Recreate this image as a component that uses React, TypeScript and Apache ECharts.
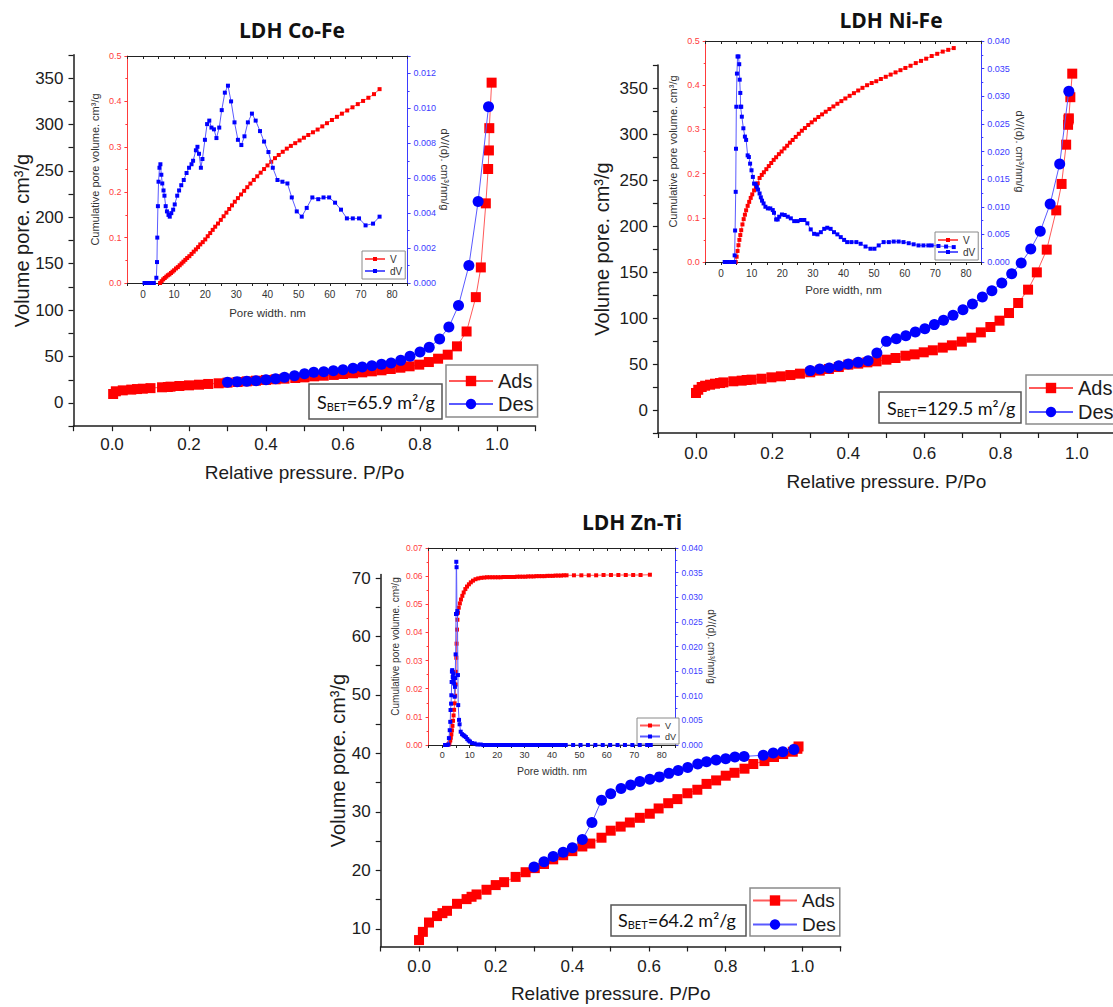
import React, { useEffect, useRef } from "react";
import * as echarts from "echarts";

// ---------------- DATA ----------------
const panelTitles = ["LDH Co-Fe", "LDH Ni-Fe", "LDH Zn-Ti"];
const sbetValues = ["65.9", "129.5", "64.2"];

const coFeAds = [[0.003,9.7],[0.01,12.6],[0.028,13.6],[0.05,14.4],[0.065,15],[0.08,15.4],[0.1,16],[0.13,16.9],[0.145,17.2],[0.152,17.6],[0.175,18.3],[0.2,19],[0.226,19.7],[0.25,20.5],[0.277,21.2],[0.3,21.9],[0.326,22.6],[0.35,23.3],[0.374,24],[0.4,24.8],[0.425,25.5],[0.448,26.2],[0.476,26.9],[0.5,27.6],[0.525,28.7],[0.55,29.4],[0.576,30.2],[0.6,31.2],[0.626,32],[0.65,33],[0.675,34.1],[0.7,35.2],[0.724,36.6],[0.749,38],[0.773,39.5],[0.798,41.3],[0.823,44.1],[0.847,47.7],[0.872,52],[0.896,61],[0.921,77],[0.945,114],[0.958,146],[0.971,215],[0.977,252],[0.979,272],[0.98,296],[0.986,345]];
const coFeDes = [[0.3,22.3],[0.325,23],[0.35,23.3],[0.374,24],[0.4,25.1],[0.425,26.2],[0.448,27.6],[0.474,29.4],[0.5,31.6],[0.524,33],[0.55,33.7],[0.575,34.8],[0.6,35.9],[0.626,37.3],[0.65,38.8],[0.675,40.2],[0.7,41.6],[0.725,43.1],[0.75,45.9],[0.774,50.3],[0.8,54.9],[0.824,59.9],[0.851,68.9],[0.875,81.8],[0.9,105],[0.927,148],[0.951,217],[0.978,319]];
const coFeV = [[5.5,0],[6,0.004],[6.5,0.008],[7,0.011],[7.5,0.014],[8,0.017],[8.5,0.019],[9,0.022],[9.5,0.025],[10,0.028],[10.6,0.032],[11.2,0.035],[11.8,0.039],[12.4,0.043],[13,0.047],[13.6,0.051],[14.2,0.055],[14.9,0.059],[15.6,0.064],[16.3,0.069],[17,0.074],[17.7,0.079],[18.4,0.085],[19.2,0.09],[20,0.096],[20.8,0.103],[21.6,0.11],[22.4,0.117],[23.2,0.124],[24.1,0.131],[25,0.139],[25.9,0.147],[26.8,0.155],[27.7,0.163],[28.6,0.171],[29.5,0.179],[30.5,0.187],[31.5,0.195],[32.5,0.203],[33.5,0.211],[34.5,0.219],[35.6,0.227],[36.7,0.235],[37.8,0.243],[38.9,0.251],[40,0.259],[41.2,0.267],[42.4,0.275],[43.6,0.282],[44.9,0.289],[46.2,0.296],[47.5,0.302],[48.9,0.308],[50.3,0.314],[51.7,0.32],[53.1,0.326],[54.6,0.332],[56.1,0.338],[57.6,0.345],[59.1,0.352],[60.7,0.359],[62.3,0.366],[63.9,0.373],[65.6,0.38],[67.3,0.387],[69,0.394],[70.7,0.401],[72.4,0.408],[74.2,0.416],[76,0.427]];
const coFeDV = [[0.5,0],[1.5,0],[2.5,0],[3.5,0],[4.3,0.0003],[4.5,0.0012],[4.6,0.0026],[4.8,0.0044],[5,0.0058],[5.3,0.0066],[5.6,0.0068],[5.9,0.0062],[6.2,0.0057],[6.6,0.0053],[6.9,0.005],[7.3,0.0044],[7.7,0.0041],[8.2,0.0039],[8.6,0.0038],[9.1,0.004],[9.7,0.0042],[10.2,0.0045],[11,0.005],[11.6,0.0053],[12.3,0.0056],[13.1,0.0059],[14,0.0063],[14.8,0.0066],[15.6,0.0068],[16.1,0.007],[17,0.0076],[17.5,0.0078],[18,0.0074],[18.6,0.0066],[19.1,0.0071],[19.9,0.0082],[20.6,0.0091],[21.3,0.0093],[22,0.0089],[22.8,0.0088],[23.6,0.0083],[24.5,0.0089],[25.3,0.0099],[26.3,0.0109],[27.3,0.0113],[28.3,0.0104],[29.4,0.0092],[30.5,0.0082],[31.6,0.0079],[32.6,0.0084],[33.7,0.0092],[35,0.0097],[36.2,0.0093],[37.6,0.0087],[38.9,0.0081],[40.3,0.0075],[41.7,0.0066],[43.2,0.0059],[44.8,0.0058],[46.4,0.0057],[47.8,0.0049],[49.4,0.0041],[51,0.0038],[52.6,0.0043],[54.4,0.0049],[56.3,0.0048],[58,0.0049],[59.8,0.0049],[61.7,0.0046],[63.6,0.0042],[65.5,0.0037],[67.4,0.0037],[69.4,0.0037],[71.5,0.0033],[73.9,0.0034],[76,0.0038]];

const niFeAds = [[0,18.5],[0.006,22],[0.015,25],[0.024,26.4],[0.037,27.5],[0.05,28.6],[0.063,29.3],[0.072,30],[0.098,31.2],[0.12,31.9],[0.133,32.6],[0.146,33],[0.172,34],[0.198,35.5],[0.223,36.6],[0.248,38],[0.273,39.5],[0.3,41],[0.325,42.8],[0.349,44.6],[0.375,46.7],[0.4,49.3],[0.426,50.4],[0.45,51.8],[0.474,52.9],[0.5,54.7],[0.524,56.5],[0.55,59],[0.574,60.5],[0.598,62.7],[0.622,64.9],[0.648,67.8],[0.672,70.3],[0.698,74.3],[0.723,78.6],[0.748,84.4],[0.773,90.2],[0.797,97.1],[0.822,105.4],[0.846,116.3],[0.872,130.8],[0.895,149.6],[0.921,174.3],[0.946,217],[0.96,245.7],[0.972,288.4],[0.977,310],[0.978,315.6],[0.979,317],[0.983,340],[0.988,365.6]];
const niFeDes = [[0.3,42.8],[0.325,44.6],[0.35,45.7],[0.375,48.2],[0.4,50],[0.426,51.8],[0.452,53.6],[0.475,62],[0.5,74.6],[0.526,77.5],[0.551,80.8],[0.576,84.8],[0.601,88.4],[0.626,92.8],[0.65,97.5],[0.675,102.9],[0.701,109],[0.726,115.2],[0.752,122.8],[0.777,129.7],[0.803,138],[0.829,148.2],[0.854,159.8],[0.879,175],[0.904,194.2],[0.93,224],[0.955,267.4],[0.979,346.4]];
const niFeV = [[4.8,0],[5.1,0.012],[5.4,0.025],[5.7,0.038],[6,0.05],[6.3,0.061],[6.6,0.072],[7,0.085],[7.4,0.097],[7.8,0.107],[8.2,0.117],[8.7,0.127],[9.2,0.136],[9.7,0.145],[10.2,0.153],[10.8,0.162],[11.4,0.17],[12,0.178],[12.6,0.19],[13.3,0.197],[14,0.203],[14.8,0.21],[15.6,0.217],[16.4,0.224],[17.2,0.231],[18,0.237],[18.9,0.244],[19.8,0.25],[20.7,0.257],[21.6,0.263],[22.5,0.27],[23.4,0.276],[24.4,0.283],[25.4,0.29],[26.4,0.297],[27.4,0.303],[28.5,0.31],[29.6,0.316],[30.7,0.322],[31.8,0.328],[33,0.334],[34.2,0.34],[35.4,0.346],[36.7,0.352],[38,0.358],[39.3,0.364],[40.6,0.37],[42,0.376],[43.4,0.382],[44.8,0.388],[46.2,0.394],[47.7,0.4],[49.2,0.405],[50.7,0.409],[52.2,0.414],[53.8,0.419],[55.4,0.424],[57,0.429],[58.6,0.434],[60.2,0.439],[61.9,0.444],[63.6,0.45],[65.3,0.455],[67,0.46],[68.8,0.466],[70.6,0.471],[72.4,0.476],[74.2,0.48],[76,0.484]];
const niFeDV = [[1.2,0],[2.2,0],[3.3,0],[4.4,0],[4.45,0.0012],[4.6,0.0057],[4.8,0.0127],[4.9,0.0205],[5,0.0281],[5.2,0.0341],[5.4,0.0372],[5.7,0.0372],[5.95,0.0358],[6.1,0.033],[6.3,0.0306],[6.4,0.0281],[6.6,0.0281],[6.8,0.0263],[7.3,0.0242],[7.8,0.0227],[8.2,0.0221],[8.7,0.0193],[9.1,0.019],[9.5,0.0178],[9.96,0.0166],[10.4,0.0154],[10.8,0.0142],[11.3,0.0141],[11.7,0.0136],[12.1,0.0131],[12.6,0.0124],[13,0.0117],[13.4,0.0111],[13.9,0.0106],[14.5,0.01],[15.3,0.0097],[16.1,0.0097],[16.9,0.0094],[17.3,0.0089],[18,0.0077],[18.5,0.0077],[19,0.0082],[19.9,0.0086],[20.8,0.0085],[21.8,0.0082],[22.8,0.0079],[23.9,0.0074],[25,0.0074],[26.1,0.0076],[27.2,0.0076],[28.2,0.007],[29.3,0.0059],[30.4,0.0051],[31.5,0.005],[32.6,0.0054],[33.7,0.006],[34.7,0.0062],[35.8,0.006],[36.9,0.0054],[38,0.005],[39.1,0.0045],[40.2,0.004],[41.2,0.0036],[42.6,0.0036],[44.2,0.0036],[45.6,0.0033],[47.2,0.0028],[48.8,0.0024],[50.1,0.0024],[51.5,0.003],[53.1,0.0036],[54.8,0.0036],[56.4,0.0037],[58,0.0037],[59.6,0.0036],[61.3,0.0034],[62.9,0.0032],[64.5,0.003],[66.1,0.003],[67.7,0.003],[68.8,0.003],[71,0.0029],[73.5,0.0028],[76,0.0027]];

const znTiAds = [[0,8.1],[0.01,9.5],[0.026,11.1],[0.047,12.2],[0.061,12.7],[0.073,13.1],[0.099,14.3],[0.124,15.1],[0.137,15.5],[0.15,15.9],[0.176,16.7],[0.2,17.5],[0.222,18],[0.252,18.9],[0.278,19.7],[0.302,20.4],[0.326,21.1],[0.35,21.9],[0.376,22.6],[0.4,23.3],[0.426,24.1],[0.447,24.6],[0.476,25.6],[0.5,26.8],[0.526,27.5],[0.55,28.2],[0.576,29],[0.602,29.7],[0.625,30.6],[0.65,31.5],[0.674,32.2],[0.7,33.2],[0.726,33.8],[0.75,34.8],[0.775,35.4],[0.8,36.2],[0.823,36.7],[0.849,37.4],[0.872,38.2],[0.901,38.7],[0.926,39.4],[0.95,39.9],[0.975,40.3],[0.987,40.8],[0.99,41.2]];
const znTiDes = [[0.3,20.6],[0.326,21.5],[0.35,22.4],[0.376,23.1],[0.4,23.9],[0.426,25.3],[0.451,28.2],[0.476,32],[0.5,33.1],[0.527,34],[0.552,34.6],[0.576,35.2],[0.602,35.6],[0.627,36],[0.652,36.6],[0.676,37.1],[0.701,37.6],[0.727,38.2],[0.75,38.6],[0.775,38.9],[0.8,39.1],[0.824,39.4],[0.848,39.5],[0.898,39.7],[0.924,40.1],[0.949,40.3],[0.978,40.7]];
const znTiV = [[1.2,0],[1.8,0],[2.3,0.0002],[2.6,0.0008],[2.9,0.0016],[3.1,0.0026],[3.3,0.0038],[3.5,0.0052],[3.7,0.0068],[3.9,0.0086],[4.1,0.0105],[4.3,0.0125],[4.5,0.0148],[4.7,0.0175],[4.9,0.0215],[5,0.026],[5.1,0.031],[5.2,0.036],[5.35,0.041],[5.5,0.0445],[5.7,0.047],[6,0.0488],[6.4,0.0503],[6.8,0.0517],[7.3,0.053],[7.8,0.0542],[8.4,0.0554],[9,0.0563],[9.7,0.0571],[10.4,0.0578],[11.2,0.0584],[12.1,0.0589],[13.1,0.0592],[14.2,0.0594],[15.3,0.0595],[16.3,0.0596],[17.3,0.0596],[18.3,0.0596],[19.3,0.0596],[20.3,0.0596],[21.3,0.0596],[22.3,0.0597],[23.3,0.0597],[24.3,0.0597],[25.3,0.0597],[26.3,0.0597],[27.3,0.0598],[28.3,0.0598],[29.3,0.0598],[30.3,0.0598],[31.3,0.0599],[32.3,0.0599],[33.3,0.0599],[34.3,0.06],[35.3,0.06],[36.3,0.06],[37.3,0.06],[38.3,0.0601],[39.3,0.0601],[40.3,0.0601],[41.3,0.0602],[42.3,0.0602],[43.3,0.0602],[44.3,0.0603],[45.3,0.0603],[48,0.0603],[50.7,0.0603],[53.4,0.0603],[56.1,0.0603],[58.8,0.0604],[61.5,0.0604],[64.2,0.0604],[66.9,0.0604],[69.6,0.0604],[72.3,0.0604],[75.7,0.0605]];
const znTiDV = [[1,0],[1.6,0],[2.2,0.0001],[2.4,0.0014],[2.7,0.003],[2.9,0.0047],[3,0.0071],[3.2,0.0084],[3.3,0.0101],[3.4,0.0128],[3.5,0.0149],[3.6,0.0152],[3.8,0.0138],[3.9,0.0128],[4,0.0145],[4.1,0.0134],[4.3,0.0125],[4.5,0.0098],[4.6,0.0118],[4.7,0.0136],[4.85,0.0184],[5,0.0266],[5.1,0.0372],[5.2,0.0361],[5.35,0.0267],[5.5,0.0272],[5.7,0.0142],[5.8,0.0081],[6.1,0.0051],[6.3,0.0042],[6.7,0.0027],[7.2,0.0022],[7.7,0.002],[8.1,0.0018],[8.6,0.0016],[9.1,0.0012],[9.6,0.0009],[10.1,0.0007],[10.8,0.0004],[11.8,0.0003],[12.8,0.0001],[14,0.0001],[15,0],[16,0],[17,0],[18,0],[19,0],[20,0],[21,0],[22,0],[23,0],[24,0],[25,0],[26,0],[27,0],[28,0],[29,0],[30,0],[31,0],[32,0],[33,0],[34,0],[35,0],[36,0],[37,0],[38,0],[39,0],[40,0],[41,0],[42,0],[43,0],[44,0],[45,0],[47.7,0],[50.4,0],[53.1,0],[55.8,0],[58.5,0],[61.2,0],[63.9,0],[66.6,0],[69.3,0],[72,0],[74.7,0],[76,0]];

// tick labels
const mainXLabels = [0, 0.2, 0.4, 0.6, 0.8, 1.0];
const mainYLabels = [0, 50, 100, 150, 200, 250, 300, 350];
const znTiYTicks = [10, 15, 20, 25, 30, 35, 40, 45, 50, 55, 60, 65, 70];
const znTiYLabels = [10, 20, 30, 40, 50, 60, 70];
const insetXLabels = [0, 10, 20, 30, 40, 50, 60, 70, 80];
const vLabels05 = [0, 0.1, 0.2, 0.3, 0.4, 0.5];
const coFeDVLabels = [0, 0.002, 0.004, 0.006, 0.008, 0.01, 0.012];
const dVLabels04 = [0, 0.005, 0.01, 0.015, 0.02, 0.025, 0.03, 0.035, 0.04];
const znTiVLabels = [0, 0.01, 0.02, 0.03, 0.04, 0.05, 0.06, 0.07];

// ---------------- STYLE / LAYOUT ----------------
const SANS = '"Liberation Sans", Arial, sans-serif';
const TITLEF = '"Open Sans", sans-serif';
const CAL = 'Lato, sans-serif';
const RED = "#ff0000";
const BLUE = "#0000ff";
const RED_AX = "#ff3b3b";
const BLUE_AX = "#3b3bff";
const INK = "#1c1c1c";

const near = (arr: number[], v: number) => arr.some((a) => Math.abs(a - v) < 1e-7);
const fmt = (arr: number[], d: number) => (v: number) => (near(arr, v) ? v.toFixed(d) : "");

type Panel = {
  main: any; inset: any;
  yMin: number; yMax: number; yInterval: number; yTicks?: number[]; yLabels: number[];
  xLabelMargin: number; xNameGap: number; yNameGap: number; yLabelFont: number;
  ins: any;
  legend: any; insLegend: any; sbet: any; title: any;
  data: any[];
};

const panels: Panel[] = [
  {
    main: { left: 73.5, top: 54.8, width: 462, height: 371.4 },
    inset: { left: 127.4, top: 56, width: 280.2, height: 227 },
    yMin: -25, yMax: 375, yInterval: 25, yLabels: mainYLabels,
    xLabelMargin: 10, xNameGap: 37, yNameGap: 42, yLabelFont: 17,
    ins: { vMax: 0.5, vInt: 0.1, vLabels: vLabels05, vDec: 1, dMax: 0.013, dInt: 0.002, dLabels: coFeDVLabels,
      xName: "Pore width. nm", nameFont: 11, tickFont: 9, xTickFont: 10, xNameGap: 24, leftGap: 27, rightGap: 32, xMargin: 6 },
    legend: { left: 446, top: 365, font: 20, pad: [6, 4, 3, 2], gap: 3 },
    insLegend: { left: 362, top: 251, font: 10 },
    sbet: { x: 309, y: 384, w: 133, h: 35, tx: 317, ty: 402 },
    title: { x: 292, y: 30 },
    data: [coFeAds, coFeDes, coFeV, coFeDV],
  },
  {
    main: { left: 657.9, top: 65, width: 457, height: 368 },
    inset: { left: 705.7, top: 41, width: 275.6, height: 221 },
    yMin: -25, yMax: 375, yInterval: 25, yLabels: mainYLabels,
    xLabelMargin: 12, xNameGap: 38.5, yNameGap: 46, yLabelFont: 17,
    ins: { vMax: 0.5, vInt: 0.1, vLabels: vLabels05, vDec: 1, dMax: 0.04, dInt: 0.005, dLabels: dVLabels04,
      xName: "Pore width, nm", nameFont: 11, tickFont: 9, xTickFont: 10, xNameGap: 22, leftGap: 27, rightGap: 33, xMargin: 6 },
    legend: { left: 1026, top: 375, font: 20, pad: [3, 4, 2, 2], gap: 4 },
    insLegend: { left: 935, top: 232, font: 10 },
    sbet: { x: 879, y: 392, w: 142, h: 31, tx: 887, ty: 408 },
    title: { x: 891, y: 20 },
    data: [niFeAds, niFeDes, niFeV, niFeDV],
  },
  {
    main: { left: 380.7, top: 574.5, width: 460, height: 372 },
    inset: { left: 428.6, top: 548, width: 246.8, height: 197 },
    yMin: 7, yMax: 70.6, yInterval: 5, yTicks: znTiYTicks, yLabels: znTiYLabels,
    xLabelMargin: 11, xNameGap: 37, yNameGap: 33, yLabelFont: 17,
    ins: { vMax: 0.07, vInt: 0.01, vLabels: znTiVLabels, vDec: 2, dMax: 0.04, dInt: 0.005, dLabels: dVLabels04,
      xName: "Pore width. nm", nameFont: 10, tickFont: 8.5, xTickFont: 9, xNameGap: 20, leftGap: 28.5, rightGap: 31, xMargin: 5 },
    legend: { left: 750, top: 888, font: 19, pad: [3, 4, 2, 2], gap: 5 },
    insLegend: { left: 637, top: 718, font: 9 },
    sbet: { x: 611, y: 905, w: 135, h: 31, tx: 618, ty: 920 },
    title: { x: 632, y: 522 },
    data: [znTiAds, znTiDes, znTiV, znTiDV],
  },
];

function buildOption() {
  const grid: any[] = [];
  const xAxis: any[] = [];
  const yAxis: any[] = [];
  const series: any[] = [];
  const legend: any[] = [];
  const graphic: any[] = [];

  panels.forEach((p, i) => {
    grid.push({ ...p.main, show: false, containLabel: false, outerBoundsMode: "none" });
    grid.push({ ...p.inset, show: false, containLabel: false, outerBoundsMode: "none" });
    const gMain = 2 * i;
    const gIns = 2 * i + 1;

    xAxis.push({
      type: "value", gridIndex: gMain, min: -0.1, max: 1.1, interval: 0.1, position: "bottom",
      axisLine: { show: true, onZero: false, lineStyle: { color: INK, width: 1.5 } },
      axisTick: { show: true, inside: false, length: 5, lineStyle: { color: INK, width: 1.2 } },
      axisLabel: { show: true, fontSize: 17, fontFamily: SANS, color: INK, margin: p.xLabelMargin, formatter: fmt(mainXLabels, 1) },
      splitLine: { show: false },
      name: "Relative pressure. P/Po", nameLocation: "middle", nameGap: p.xNameGap, nameMoveOverlap: false,
      nameTextStyle: { fontSize: 19, fontFamily: SANS, color: INK },
    });
    xAxis.push({
      type: "value", gridIndex: gIns, min: -5, max: 85, interval: 5, position: "bottom",
      axisLine: { show: true, onZero: false, lineStyle: { color: "#222", width: 1 } },
      axisTick: { show: true, inside: false, length: 3, lineStyle: { color: "#222" } },
      axisLabel: { show: true, fontSize: p.ins.xTickFont, fontFamily: SANS, color: "#333", margin: p.ins.xMargin, formatter: fmt(insetXLabels, 0) },
      splitLine: { show: false },
      name: p.ins.xName, nameLocation: "middle", nameGap: p.ins.xNameGap, nameMoveOverlap: false,
      nameTextStyle: { fontSize: p.ins.nameFont + 0.5, fontFamily: SANS, color: "#333" },
    });
    xAxis.push({
      type: "value", gridIndex: gIns, min: -5, max: 85, interval: 5, position: "top",
      axisLine: { show: true, onZero: false, lineStyle: { color: "#222", width: 1 } },
      axisTick: { show: true, inside: true, length: 3, lineStyle: { color: "#222" } },
      axisLabel: { show: false }, splitLine: { show: false },
    });

    const yTick: any = { show: true, inside: false, length: 5, lineStyle: { color: INK, width: 1.2 } };
    const yLab: any = { show: true, fontSize: p.yLabelFont, fontFamily: SANS, color: INK, margin: 10, formatter: fmt(p.yLabels, 0) };
    if (p.yTicks) { yTick.customValues = p.yTicks; yLab.customValues = p.yLabels; }
    yAxis.push({
      type: "value", gridIndex: gMain, min: p.yMin, max: p.yMax, interval: p.yInterval, position: "left",
      axisLine: { show: true, onZero: false, lineStyle: { color: INK, width: 1.5 } },
      axisTick: yTick, axisLabel: yLab, splitLine: { show: false },
      name: "Volume pore. cm³/g", nameLocation: "middle", nameGap: p.yNameGap, nameMoveOverlap: false,
      nameTextStyle: { fontSize: 20, fontFamily: SANS, color: INK },
    });
    yAxis.push({
      type: "value", gridIndex: gIns, min: 0, max: p.ins.vMax, interval: p.ins.vInt, position: "left",
      axisLine: { show: true, onZero: false, lineStyle: { color: RED_AX, width: 1 } },
      axisTick: { show: true, inside: false, length: 3, lineStyle: { color: RED_AX } },
      minorTick: { show: true, splitNumber: 2, length: 2, lineStyle: { color: RED_AX } },
      axisLabel: { show: true, fontSize: p.ins.tickFont, fontFamily: SANS, color: RED_AX, margin: 6, formatter: fmt(p.ins.vLabels, p.ins.vDec) },
      splitLine: { show: false }, minorSplitLine: { show: false },
      name: "Cumulative pore volume. cm³/g", nameLocation: "middle", nameGap: p.ins.leftGap, nameMoveOverlap: false,
      nameTextStyle: { fontSize: p.ins.nameFont, fontFamily: SANS, color: "#333" },
    });
    yAxis.push({
      type: "value", gridIndex: gIns, min: 0, max: p.ins.dMax, interval: p.ins.dInt, position: "right",
      axisLine: { show: true, onZero: false, lineStyle: { color: BLUE_AX, width: 1 } },
      axisTick: { show: true, inside: false, length: 3, lineStyle: { color: BLUE_AX } },
      minorTick: { show: true, splitNumber: 2, length: 2, lineStyle: { color: BLUE_AX } },
      axisLabel: { show: true, fontSize: p.ins.tickFont, fontFamily: SANS, color: BLUE_AX, margin: 6, formatter: fmt(p.ins.dLabels, 3) },
      splitLine: { show: false }, minorSplitLine: { show: false },
      name: "dV/(d). cm³/nm/g", nameLocation: "middle", nameGap: p.ins.rightGap, nameRotate: -90, nameMoveOverlap: false,
      nameTextStyle: { fontSize: p.ins.nameFont, fontFamily: SANS, color: "#333" },
    });

    const ax = 3 * i;
    const [ads, des, v, dv] = p.data;
    series.push({
      type: "line", name: "Ads", xAxisIndex: ax, yAxisIndex: ax, data: ads, symbol: "rect", symbolSize: 10,
      itemStyle: { color: RED }, lineStyle: { color: "#ff5a5a", width: 1 }, z: 3, silent: true,
    });
    series.push({
      type: "line", name: "Des", xAxisIndex: ax, yAxisIndex: ax, data: des, symbol: "circle", symbolSize: 11,
      itemStyle: { color: BLUE }, lineStyle: { color: "#5a5aff", width: 1 }, z: 4, silent: true,
    });
    series.push({
      type: "line", name: "V", xAxisIndex: ax + 1, yAxisIndex: ax + 1, data: v, symbol: "rect", symbolSize: 4,
      itemStyle: { color: RED }, lineStyle: { color: "#ff5a5a", width: 1 }, z: 3, silent: true,
    });
    series.push({
      type: "line", name: "dV", xAxisIndex: ax + 1, yAxisIndex: ax + 2, data: dv, symbol: "rect", symbolSize: 4,
      itemStyle: { color: BLUE }, lineStyle: { color: "#5a5aff", width: 1 }, z: 4, silent: true,
    });

    legend.push({
      data: ["Ads", "Des"], left: p.legend.left, top: p.legend.top, orient: "vertical", align: "left",
      itemWidth: 44, itemHeight: 13, itemGap: p.legend.gap, padding: p.legend.pad,
      backgroundColor: "#fff", borderColor: "#8a8a8a", borderWidth: 1.5, selectedMode: false,
      textStyle: { fontSize: p.legend.font, fontFamily: SANS, color: INK },
    });
    legend.push({
      data: ["V", "dV"], left: p.insLegend.left, top: p.insLegend.top, orient: "vertical", align: "left",
      itemWidth: 20, itemHeight: 5, itemGap: 2, padding: [3, 3, 3, 2],
      backgroundColor: "#fff", borderColor: "#8a8a8a", borderWidth: 1, selectedMode: false,
      textStyle: { fontSize: p.insLegend.font, fontFamily: SANS, color: "#333" },
    });

    graphic.push({
      type: "text", x: p.title.x, y: p.title.y, z: 100,
      style: { text: panelTitles[i], fill: "#111", font: `bold 21px ${TITLEF}`, align: "center", verticalAlign: "middle" },
    });
    graphic.push({
      type: "rect", z: 100, shape: { x: p.sbet.x, y: p.sbet.y, width: p.sbet.w, height: p.sbet.h },
      style: { fill: "#fff", stroke: "#555", lineWidth: 1.5 },
    });
    graphic.push({
      type: "text", x: p.sbet.tx, y: p.sbet.ty, z: 101,
      style: {
        text: `{a|S}{b|BET}{a|=${sbetValues[i]} m²/g}`, align: "left", verticalAlign: "middle", fill: "#111",
        rich: {
          a: { fontSize: 18, fontFamily: CAL, fill: "#111", lineHeight: 20 },
          b: { fontSize: 11, fontFamily: CAL, fill: "#111", lineHeight: 11, verticalAlign: "bottom" },
        },
      },
    });
  });

  return { animation: false, backgroundColor: "#fff", grid, xAxis, yAxis, series, legend, graphic, tooltip: { show: false } };
}

export default function App() {
  const ref = useRef<HTMLDivElement>(null);
  useEffect(() => {
    if (!ref.current) return;
    const chart = echarts.init(ref.current, null, { renderer: "svg" });
    chart.setOption(buildOption() as any);
    return () => chart.dispose();
  }, []);
  return <div ref={ref} style={{ position: "absolute", left: 0, top: 0, width: 1113, height: 1007, background: "#fff" }} />;
}
